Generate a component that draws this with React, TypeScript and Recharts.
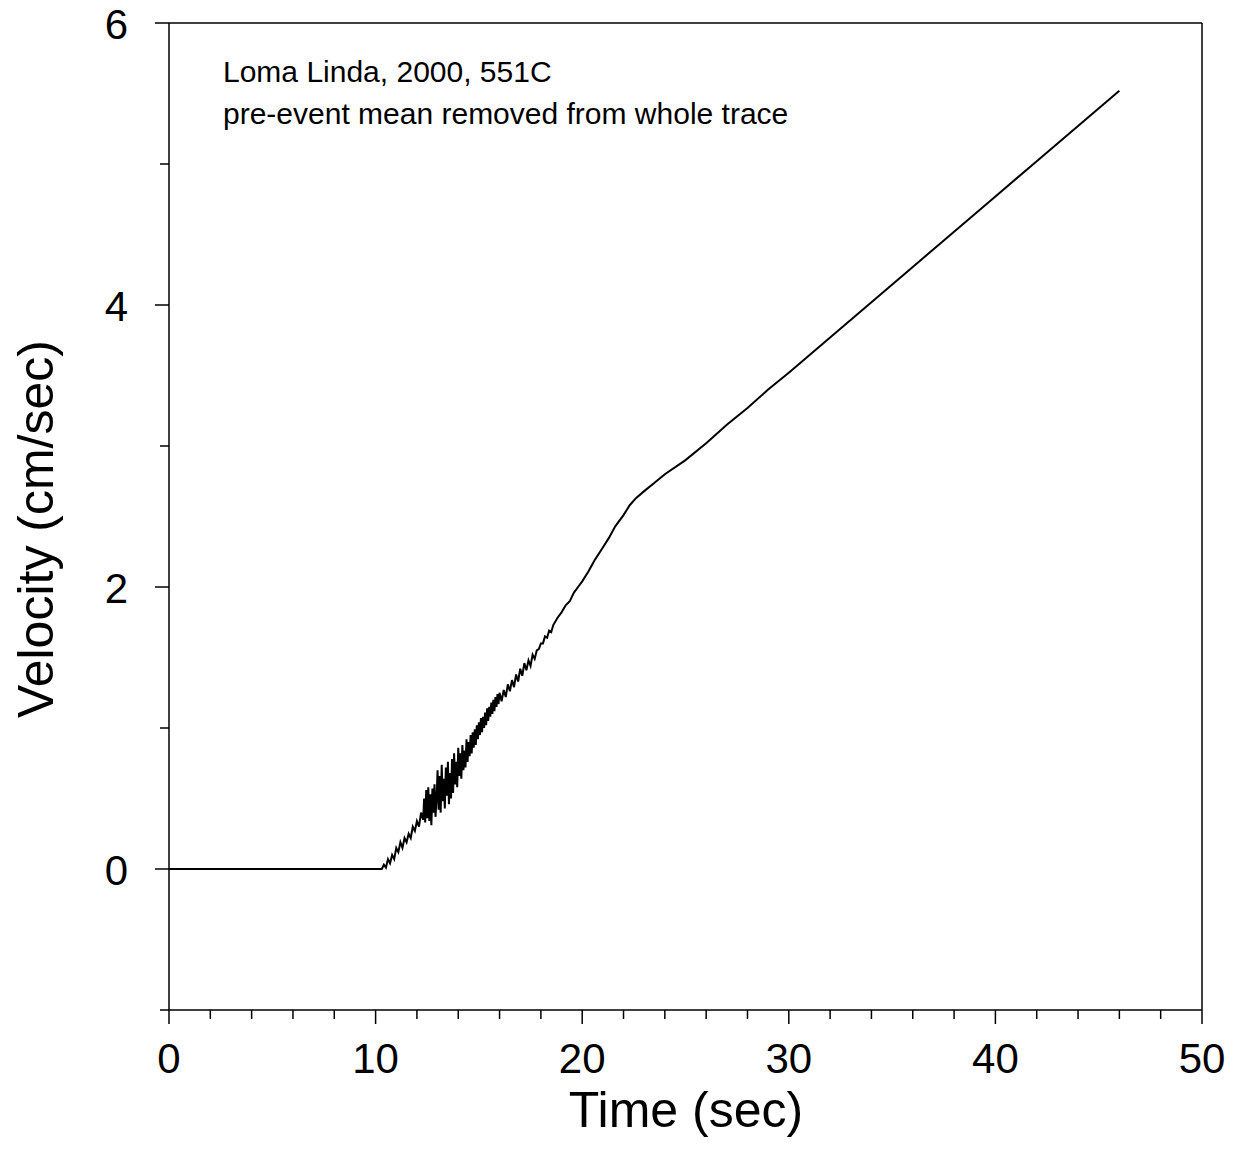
import React from 'react';
import { LineChart, Line, XAxis, YAxis, ReferenceLine } from 'recharts';

// velocity trace (time in sec, velocity in cm/sec)
const TIME = [
  0, 10.3, 10.4, 10.5, 10.6, 10.7, 10.8, 10.9, 11.0, 11.1, 11.2, 11.3, 11.4, 11.5, 11.6, 11.7, 11.8, 11.9,
  12.0, 12.1, 12.2, 12.3, 12.35, 12.4, 12.45, 12.5, 12.55, 12.6, 12.65, 12.7, 12.75, 12.8, 12.85, 12.9, 12.95,
  13.0, 13.05, 13.1, 13.15, 13.2, 13.25, 13.3, 13.35, 13.4, 13.45, 13.5, 13.55, 13.6, 13.65, 13.7, 13.75,
  13.8, 13.85, 13.9, 13.95, 14.0, 14.05, 14.1, 14.15, 14.2, 14.25, 14.3, 14.35, 14.4, 14.45, 14.5, 14.55,
  14.6, 14.65, 14.7, 14.75, 14.8, 14.85, 14.9, 14.95, 15.0, 15.05, 15.1, 15.15, 15.2, 15.25, 15.3, 15.35,
  15.4, 15.45, 15.5, 15.55, 15.6, 15.65, 15.7, 15.75, 15.8, 15.85, 15.9, 15.95, 16.0, 16.1, 16.2, 16.3,
  16.4, 16.5, 16.6, 16.7, 16.8, 16.9, 17.0, 17.1, 17.2, 17.3, 17.4, 17.5, 17.6, 17.7, 17.8, 17.9, 18.0,
  18.1, 18.2, 18.3, 18.4, 18.5, 18.6, 18.8, 19.0, 19.2, 19.4, 19.6, 19.8, 20.0, 20.3, 20.6, 21.0, 21.3,
  21.6, 22.0, 22.3, 22.6, 23.0, 23.5, 24.0, 25.0, 26.0, 27.0, 28.0, 29.0, 30.0, 32.0, 34.0, 36.0, 38.0,
  40.0, 42.0, 44.0, 46.0,
];
const VELOCITY = [
  0, 0.0, 0.03, 0.01, 0.07, 0.04, 0.1, 0.07, 0.15, 0.12, 0.19, 0.15, 0.22, 0.19, 0.25, 0.22, 0.3, 0.27,
  0.34, 0.3, 0.4, 0.35, 0.5, 0.33, 0.56, 0.36, 0.58, 0.34, 0.53, 0.31, 0.57, 0.4, 0.6, 0.37, 0.5,
  0.7, 0.42, 0.66, 0.4, 0.74, 0.48, 0.64, 0.43, 0.72, 0.52, 0.76, 0.46, 0.68, 0.5, 0.78, 0.54,
  0.82, 0.6, 0.76, 0.58, 0.86, 0.66, 0.82, 0.64, 0.88, 0.7, 0.84, 0.72, 0.92, 0.76, 0.9, 0.8,
  0.95, 0.82, 0.97, 0.86, 0.99, 0.88, 1.02, 0.92, 1.04, 0.95, 1.07, 0.97, 1.08, 1.0, 1.11, 1.02,
  1.14, 1.05, 1.15, 1.08, 1.18, 1.1, 1.2, 1.12, 1.22, 1.15, 1.24, 1.17, 1.25, 1.19, 1.27, 1.22,
  1.31, 1.26, 1.34, 1.29, 1.38, 1.33, 1.42, 1.37, 1.46, 1.41, 1.48, 1.44, 1.52, 1.49, 1.55, 1.56, 1.6,
  1.6, 1.65, 1.64, 1.69, 1.68, 1.73, 1.78, 1.82, 1.87, 1.9, 1.96, 2.0, 2.04, 2.11, 2.19, 2.28, 2.35,
  2.43, 2.51, 2.58, 2.63, 2.68, 2.74, 2.8, 2.9, 3.02, 3.15, 3.27, 3.4, 3.52, 3.77, 4.02, 4.27, 4.52,
  4.77, 5.02, 5.27, 5.52,
];

const X_TICKS = [0, 2, 4, 6, 8, 10, 12, 14, 16, 18, 20, 22, 24, 26, 28, 30, 32, 34, 36, 38, 40, 42, 44, 46, 48, 50];
const X_LABELED = [0, 10, 20, 30, 40, 50];
const Y_TICKS = [-1, 0, 1, 2, 3, 4, 5, 6];
const Y_LABELED = [0, 2, 4, 6];

const NOTES = ['Loma Linda, 2000, 551C', 'pre-event mean removed from whole trace'];

const data = TIME.map((t, i) => ({ t, v: VELOCITY[i] }));

const FONT = '"Liberation Sans", Arial, Helvetica, sans-serif';

const XTick = (props: any) => {
  const { x, y, payload } = props;
  const major = X_LABELED.includes(payload.value);
  return (
    <g>
      <line x1={x} x2={x} y1={y} y2={y + (major ? 14 : 9)} stroke="#000" strokeWidth={1.5} />
      {major && (
        <text x={x} y={y + 63} textAnchor="middle" fontSize={42} fontFamily={FONT} fill="#000">
          {payload.value}
        </text>
      )}
    </g>
  );
};

const YTick = (props: any) => {
  const { x, y, payload } = props;
  const major = Y_LABELED.includes(payload.value);
  return (
    <g>
      <line x1={x} x2={x - (major ? 14 : 9)} y1={y} y2={y} stroke="#000" strokeWidth={1.5} />
      {major && (
        <text x={x - 41} y={y + 16} textAnchor="end" fontSize={42} fontFamily={FONT} fill="#000">
          {payload.value}
        </text>
      )}
    </g>
  );
};

export default function App() {
  return (
    <div style={{ position: 'absolute', left: 0, top: 0, width: 1236, height: 1152, background: '#fff' }}>
      <LineChart width={1236} height={1152} data={data} margin={{ top: 23, right: 34, bottom: 42, left: 69 }}>
        <XAxis
          dataKey="t"
          type="number"
          domain={[0, 50]}
          ticks={X_TICKS}
          interval={0}
          tickLine={false}
          tickSize={0}
          tickMargin={0}
          tick={<XTick />}
          axisLine={{ stroke: '#000', strokeWidth: 1.5 }}
          height={100}
          allowDataOverflow
        />
        <YAxis
          type="number"
          domain={[-1, 6]}
          ticks={Y_TICKS}
          interval={0}
          tickLine={false}
          tickSize={0}
          tickMargin={0}
          tick={<YTick />}
          axisLine={{ stroke: '#000', strokeWidth: 1.5 }}
          width={100}
          allowDataOverflow
        />
        <ReferenceLine y={6} stroke="#000" strokeWidth={1.5} />
        <ReferenceLine x={50} stroke="#000" strokeWidth={1.5} />
        <Line
          dataKey="v"
          stroke="#000"
          strokeWidth={2}
          dot={false}
          isAnimationActive={false}
          type="linear"
        />
      </LineChart>
      <svg
        width={1236}
        height={1152}
        style={{ position: 'absolute', left: 0, top: 0, pointerEvents: 'none' }}
        fontFamily={FONT}
      >
        <text x={223} y={82} fontSize={30} fill="#000">{NOTES[0]}</text>
        <text x={223} y={124} fontSize={30} fill="#000">{NOTES[1]}</text>
        <text x={686} y={1127} textAnchor="middle" fontSize={50} fill="#000">Time (sec)</text>
        <text x={53} y={529} textAnchor="middle" fontSize={50} fill="#000" transform="rotate(-90 53 529)">
          Velocity (cm/sec)
        </text>
      </svg>
    </div>
  );
}
